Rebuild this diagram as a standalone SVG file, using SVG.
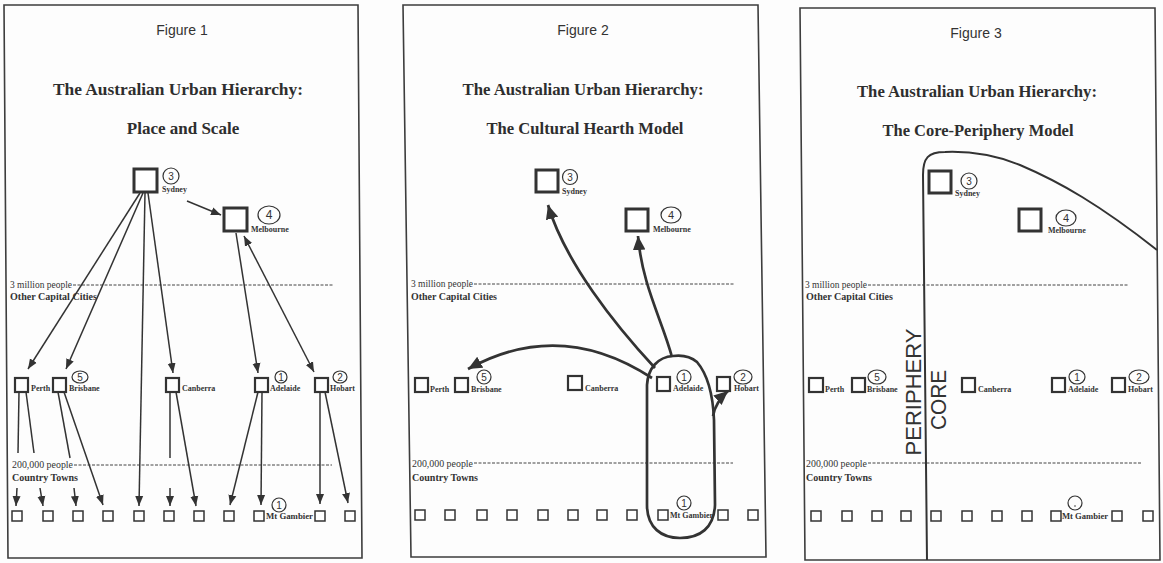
<svg xmlns="http://www.w3.org/2000/svg" width="1163" height="563" viewBox="0 0 1163 563">
<style>
.bg{fill:#fdfdfd}
.panel{fill:none;stroke:#3d3d3d;stroke-width:1.6}
.fig{font-family:"Liberation Sans","DejaVu Sans",sans-serif;font-size:14px;fill:#333;text-anchor:middle}
.title{font-family:"Liberation Serif","Times New Roman",serif;font-weight:bold;font-size:17px;fill:#2e2e2e;text-anchor:middle}
.big{fill:#fff;stroke:#333;stroke-width:3}
.cap{fill:#fff;stroke:#333;stroke-width:2.2}
.town{fill:#fff;stroke:#333;stroke-width:1.5}
.lbl{font-family:"Liberation Serif","Times New Roman",serif;font-weight:bold;font-size:8px;fill:#333}
.row{font-family:"Liberation Serif","Times New Roman",serif;font-size:9.5px;fill:#333}
.rowb{font-family:"Liberation Serif","Times New Roman",serif;font-weight:bold;font-size:9.5px;fill:#333}
.dash{stroke:#444;stroke-width:1;stroke-dasharray:3 1.5}
.ring{fill:none;stroke:#333;stroke-width:1.2}
.num{font-family:"Liberation Sans","DejaVu Sans",sans-serif;font-size:10px;fill:#333;text-anchor:middle}
.e1{fill:none;stroke:#333;stroke-width:1.5}
.e1a{fill:none;stroke:#333;stroke-width:1.5;marker-end:url(#a1)}
.e2{fill:none;stroke:#333;stroke-width:2.7;marker-end:url(#a2)}
.hand{fill:none;stroke:#333;stroke-width:2.7}
.hw{font-family:"Liberation Sans","DejaVu Sans",sans-serif;font-size:22px;fill:#333;text-anchor:middle}
</style>
<defs>
<marker id="a1" viewBox="0 0 10 10" refX="10" refY="5" markerWidth="10" markerHeight="10" markerUnits="userSpaceOnUse" orient="auto-start-reverse"><path d="M0,1 L10,5 L0,9 Z" fill="#333"/></marker>
<marker id="a2" viewBox="0 0 10 10" refX="10" refY="5" markerWidth="14" markerHeight="14" markerUnits="userSpaceOnUse" orient="auto"><path d="M0,0.5 L10,5 L0,9.5 Z" fill="#333"/></marker>
</defs>
<rect class="bg" x="0" y="0" width="1163" height="563"/>

<!-- ================= FIGURE 1 ================= -->
<g id="figure1">
<polygon class="panel" points="4,5 358,5 362,558 8,558"/>
<text class="fig" x="182" y="35">Figure 1</text>
<text class="title" x="178" y="95" textLength="250" lengthAdjust="spacingAndGlyphs">The Australian Urban Hierarchy:</text>
<text class="title" x="183" y="134">Place and Scale</text>
<g id="f1-levels">
<text class="row" x="10" y="288" textLength="62" lengthAdjust="spacingAndGlyphs">3 million people</text>
<line class="dash" x1="73" y1="285" x2="333" y2="285"/>
<text class="rowb" x="10" y="300" textLength="87" lengthAdjust="spacingAndGlyphs">Other Capital Cities</text>
<text class="row" x="12" y="468" textLength="61" lengthAdjust="spacingAndGlyphs">200,000 people</text>
<line class="dash" x1="74" y1="465" x2="332" y2="465"/>
<text class="rowb" x="12" y="481" textLength="66" lengthAdjust="spacingAndGlyphs">Country Towns</text>
</g>
<g id="f1-sydney"><rect class="big" x="134" y="169" width="23" height="23"/><circle class="ring" cx="171" cy="176" r="8"/><text class="num" x="171" y="180">3</text><text class="lbl" x="162" y="192">Sydney</text></g>
<g id="f1-melbourne"><rect class="big" x="224" y="208" width="23" height="23"/><ellipse class="ring" cx="269" cy="215" rx="11" ry="9"/><text class="num" x="269" y="219" style="font-size:12px">4</text><text class="lbl" x="251" y="232">Melbourne</text></g>
<g id="f1-perth"><rect class="cap" x="15" y="378" width="13" height="14"/><text class="lbl" x="31" y="391">Perth</text></g>
<g id="f1-brisbane"><rect class="cap" x="53" y="378" width="13" height="14"/><ellipse class="ring" cx="80" cy="377" rx="8" ry="6"/><text class="num" x="80" y="381">5</text><text class="lbl" x="69" y="391">Brisbane</text></g>
<g id="f1-canberra"><rect class="cap" x="166" y="378" width="13" height="14"/><text class="lbl" x="182" y="391">Canberra</text></g>
<g id="f1-adelaide"><rect class="cap" x="255" y="378" width="13" height="14"/><circle class="ring" cx="281" cy="377" r="6"/><text class="num" x="281" y="381">1</text><text class="lbl" x="270" y="391">Adelaide</text></g>
<g id="f1-hobart"><rect class="cap" x="315" y="378" width="13" height="14"/><ellipse class="ring" cx="340" cy="377" rx="7" ry="6"/><text class="num" x="340" y="381">2</text><text class="lbl" x="330" y="391">Hobart</text></g>
<g id="f1-towns">
<rect class="town" x="12" y="511" width="10" height="10"/>
<rect class="town" x="43" y="511" width="10" height="10"/>
<rect class="town" x="73" y="511" width="10" height="10"/>
<rect class="town" x="103" y="511" width="10" height="10"/>
<rect class="town" x="134" y="511" width="10" height="10"/>
<rect class="town" x="164" y="511" width="10" height="10"/>
<rect class="town" x="194" y="511" width="10" height="10"/>
<rect class="town" x="224" y="511" width="10" height="10"/>
<rect class="town" x="315" y="511" width="10" height="10"/>
<rect class="town" x="345" y="511" width="10" height="10"/>
</g>
<g id="f1-mtgambier"><rect class="town" x="254" y="511" width="10" height="10"/><circle class="ring" cx="279" cy="505" r="7"/><text class="num" x="279" y="509">1</text><text class="lbl" x="266" y="519" textLength="47" lengthAdjust="spacingAndGlyphs">Mt Gambier</text></g>
<g id="f1-connectors">
<path class="e1a" d="M187,201 L221,215"/>
<path class="e1a" d="M140,193 L28,369"/>
<path class="e1a" d="M143,193 L66,369"/>
<path class="e1a" d="M145,193 L139,506"/>
<path class="e1a" d="M148,193 L173,373"/>
<path class="e1a" d="M236,233 L258,373"/>
<path class="e1a" d="M244,236 L314,372" style="marker-start:url(#a1)"/>
<path class="e1" d="M19,392 L18,453"/>
<path class="e1a" d="M17,488 L16,506"/>
<path class="e1" d="M26,392 L34,453"/>
<path class="e1a" d="M40,488 L43,506"/>
<path class="e1" d="M58,392 L70,458"/>
<path class="e1a" d="M74,488 L76,506"/>
<path class="e1a" d="M64,392 L103,505"/>
<path class="e1" d="M170,392 L170,458"/>
<path class="e1a" d="M170,488 L170,506"/>
<path class="e1a" d="M176,392 L196,506"/>
<path class="e1a" d="M258,392 L230,505"/>
<path class="e1a" d="M262,392 L261,505"/>
<path class="e1a" d="M320,392 L320,504"/>
<path class="e1a" d="M325,392 L348,503"/>
</g>
</g>

<!-- ================= FIGURE 2 ================= -->
<g id="figure2">
<polygon class="panel" points="403,5 758,5 766,557 411,557"/>
<text class="fig" x="583" y="35">Figure 2</text>
<text class="title" x="583" y="95" textLength="241" lengthAdjust="spacingAndGlyphs">The Australian Urban Hierarchy:</text>
<text class="title" x="585" y="134" textLength="197" lengthAdjust="spacingAndGlyphs">The Cultural Hearth Model</text>
<g id="f2-levels">
<text class="row" x="411" y="287" textLength="62" lengthAdjust="spacingAndGlyphs">3 million people</text>
<line class="dash" x1="474" y1="284" x2="735" y2="284"/>
<text class="rowb" x="411" y="300" textLength="86" lengthAdjust="spacingAndGlyphs">Other Capital Cities</text>
<text class="row" x="412" y="467" textLength="61" lengthAdjust="spacingAndGlyphs">200,000 people</text>
<line class="dash" x1="474" y1="463" x2="733" y2="463"/>
<text class="rowb" x="412" y="481" textLength="66" lengthAdjust="spacingAndGlyphs">Country Towns</text>
</g>
<g id="f2-sydney"><rect class="big" x="536" y="170" width="22" height="22"/><circle class="ring" cx="570" cy="177" r="7.5"/><text class="num" x="570" y="181">3</text><text class="lbl" x="562" y="194">Sydney</text></g>
<g id="f2-melbourne"><rect class="big" x="626" y="209" width="22" height="22"/><ellipse class="ring" cx="671" cy="215" rx="10" ry="8"/><text class="num" x="671" y="219" style="font-size:11px">4</text><text class="lbl" x="653" y="232">Melbourne</text></g>
<g id="f2-perth"><rect class="cap" x="415" y="378" width="13" height="14"/><text class="lbl" x="430" y="392">Perth</text></g>
<g id="f2-brisbane"><rect class="cap" x="455" y="378" width="13" height="14"/><circle class="ring" cx="484" cy="377" r="7"/><text class="num" x="484" y="381">5</text><text class="lbl" x="471" y="392">Brisbane</text></g>
<g id="f2-canberra"><rect class="cap" x="568" y="376" width="14" height="14"/><text class="lbl" x="585" y="391">Canberra</text></g>
<g id="f2-adelaide"><rect class="cap" x="657" y="377" width="13" height="14"/><circle class="ring" cx="684" cy="377" r="7"/><text class="num" x="684" y="381">1</text><text class="lbl" x="673" y="391">Adelaide</text></g>
<g id="f2-hobart"><rect class="cap" x="717" y="377" width="13" height="14"/><ellipse class="ring" cx="743" cy="377" rx="9" ry="7"/><text class="num" x="743" y="381">2</text><text class="lbl" x="734" y="391">Hobart</text></g>
<g id="f2-towns">
<rect class="town" x="415" y="510" width="10" height="10"/>
<rect class="town" x="445" y="510" width="10" height="10"/>
<rect class="town" x="477" y="510" width="10" height="10"/>
<rect class="town" x="507" y="510" width="10" height="10"/>
<rect class="town" x="538" y="510" width="10" height="10"/>
<rect class="town" x="568" y="510" width="10" height="10"/>
<rect class="town" x="597" y="510" width="10" height="10"/>
<rect class="town" x="627" y="510" width="10" height="10"/>
<rect class="town" x="718" y="510" width="10" height="10"/>
<rect class="town" x="748" y="510" width="10" height="10"/>
</g>
<g id="f2-mtgambier"><rect class="town" x="658" y="510" width="10" height="10"/><circle class="ring" cx="684" cy="503" r="7"/><text class="num" x="684" y="507">1</text><text class="lbl" x="670" y="518" textLength="43" lengthAdjust="spacingAndGlyphs">Mt Gambier</text></g>
<g id="f2-hearth"><path class="hand" d="M673,356 C658,357 648,368 647,385 L647,505 C647,528 662,538 680,538 C700,538 714,528 715,505 L714,420 C713,395 708,375 697,362 C690,356 681,355 673,356 Z"/></g>
<g id="f2-connectors">
<path class="e2" d="M655,368 C615,325 565,262 548,205"/>
<path class="e2" d="M672,357 C662,320 642,285 638,236"/>
<path class="e2" d="M652,378 Q560,318 468,369"/>
<path class="e2" d="M713,416 C715,405 720,398 728,391"/>
</g>
</g>

<!-- ================= FIGURE 3 ================= -->
<g id="figure3">
<polygon class="panel" points="800,8 1155,8 1160,560 805,560"/>
<text class="fig" x="976" y="38">Figure 3</text>
<text class="title" x="977" y="97" textLength="240" lengthAdjust="spacingAndGlyphs">The Australian Urban Hierarchy:</text>
<text class="title" x="978" y="136" textLength="191" lengthAdjust="spacingAndGlyphs">The Core-Periphery Model</text>
<g id="f3-levels">
<text class="row" x="805" y="288" textLength="62" lengthAdjust="spacingAndGlyphs">3 million people</text>
<line class="dash" x1="868" y1="285" x2="1128" y2="285"/>
<text class="rowb" x="806" y="300" textLength="87" lengthAdjust="spacingAndGlyphs">Other Capital Cities</text>
<text class="row" x="806" y="467" textLength="61" lengthAdjust="spacingAndGlyphs">200,000 people</text>
<line class="dash" x1="868" y1="463" x2="1142" y2="463"/>
<text class="rowb" x="806" y="481" textLength="66" lengthAdjust="spacingAndGlyphs">Country Towns</text>
</g>
<g id="f3-core"><path class="e1" style="stroke-width:2" d="M927,560 L923,175 C923,158 928,152 945,152 C970,151 995,155 1020,165 C1060,182 1100,205 1157,250"/></g>
<g id="f3-periphery-label"><text class="hw" transform="translate(921,392) rotate(-90)" textLength="127" lengthAdjust="spacingAndGlyphs">PERIPHERY</text></g>
<g id="f3-core-label"><text class="hw" transform="translate(946,400) rotate(-90)" textLength="60" lengthAdjust="spacingAndGlyphs">CORE</text></g>
<g id="f3-sydney"><rect class="big" x="929" y="171" width="22" height="22"/><circle class="ring" cx="969" cy="181" r="8"/><text class="num" x="969" y="185">3</text><text class="lbl" x="955" y="196">Sydney</text></g>
<g id="f3-melbourne"><rect class="big" x="1019" y="209" width="22" height="22"/><ellipse class="ring" cx="1066" cy="218" rx="10" ry="8"/><text class="num" x="1066" y="222" style="font-size:11px">4</text><text class="lbl" x="1048" y="233">Melbourne</text></g>
<g id="f3-perth"><rect class="cap" x="809" y="378" width="14" height="14"/><text class="lbl" x="825" y="392">Perth</text></g>
<g id="f3-brisbane"><rect class="cap" x="852" y="378" width="13" height="14"/><ellipse class="ring" cx="877" cy="377" rx="9" ry="7"/><text class="num" x="877" y="381">5</text><text class="lbl" x="867" y="392">Brisbane</text></g>
<g id="f3-canberra"><rect class="cap" x="962" y="378" width="13" height="14"/><text class="lbl" x="978" y="392">Canberra</text></g>
<g id="f3-adelaide"><rect class="cap" x="1052" y="378" width="13" height="14"/><ellipse class="ring" cx="1077" cy="377" rx="8" ry="7"/><text class="num" x="1077" y="381">1</text><text class="lbl" x="1068" y="392">Adelaide</text></g>
<g id="f3-hobart"><rect class="cap" x="1112" y="378" width="13" height="14"/><ellipse class="ring" cx="1139" cy="377" rx="10" ry="7"/><text class="num" x="1139" y="381">2</text><text class="lbl" x="1128" y="392">Hobart</text></g>
<g id="f3-towns">
<rect class="town" x="811" y="511" width="10" height="10"/>
<rect class="town" x="842" y="511" width="10" height="10"/>
<rect class="town" x="872" y="511" width="10" height="10"/>
<rect class="town" x="901" y="511" width="10" height="10"/>
<rect class="town" x="931" y="511" width="10" height="10"/>
<rect class="town" x="962" y="511" width="10" height="10"/>
<rect class="town" x="992" y="511" width="10" height="10"/>
<rect class="town" x="1022" y="511" width="10" height="10"/>
<rect class="town" x="1112" y="511" width="10" height="10"/>
<rect class="town" x="1143" y="511" width="10" height="10"/>
</g>
<g id="f3-mtgambier"><rect class="town" x="1051" y="511" width="10" height="10"/><circle class="ring" cx="1075" cy="503" r="7"/><circle cx="1075" cy="506" r="0.8" fill="#333"/><text class="lbl" x="1062" y="519" textLength="46" lengthAdjust="spacingAndGlyphs">Mt Gambier</text></g>
</g>
</svg>
